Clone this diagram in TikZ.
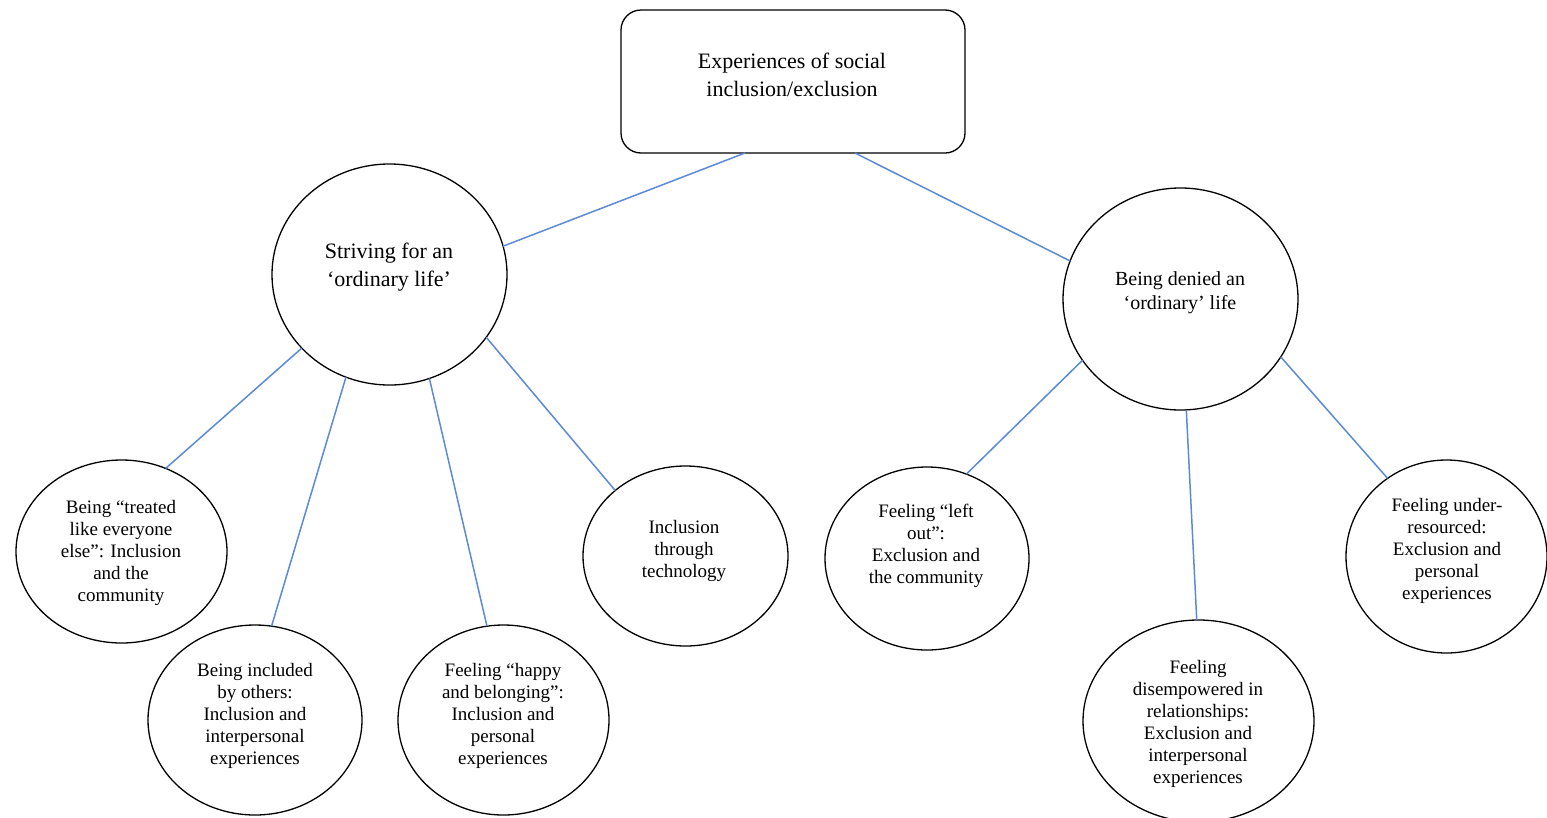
\documentclass[tikz,border=0pt]{standalone}
\usepackage{fontspec}
\setmainfont{Liberation Serif}
\usetikzlibrary{shapes.geometric}
\definecolor{linkblue}{RGB}{92,138,214}
\tikzset{
  topbox/.style={draw=black, line width=1.3pt, rounded corners=20pt, minimum width=344pt, minimum height=143pt, inner sep=0pt},
  bigtext/.style={align=center, font=\fontsize{22}{28}\selectfont, inner sep=0pt},
  smalltext/.style={align=center, font=\fontsize{19}{22}\selectfont, inner sep=0pt},
  oval/.style={draw=black, line width=1.3pt, ellipse, inner sep=0pt, outer sep=0pt},
  link/.style={draw=linkblue, line width=1.5pt}
}
\begin{document}
\begin{tikzpicture}[x=1pt,y=-1pt]
\useasboundingbox (0,0) rectangle (1547,817);

% root box
\node[topbox] (root) at (793,81.5) {};
\node[bigtext] (roottext) at (792,75) {Experiences of social\\inclusion/exclusion};
\coordinate (rootL) at (745,153);
\coordinate (rootR) at (855,153);

% second level
\node[oval, minimum width=235pt, minimum height=221pt] (strive) at (389.5,274.5) {};
\node[bigtext] (strivetext) at (389,267.5) {Striving for an\\‘ordinary life’};

\node[oval, minimum width=235pt, minimum height=222pt] (deny) at (1180.5,299) {};
\node[bigtext, font=\fontsize{20}{24}\selectfont] (denytext) at (1180,292.5) {Being denied an\\‘ordinary’ life};

% inclusion themes
\node[oval, minimum width=211pt, minimum height=183pt] (c1) at (121.5,551.5) {};
\node[smalltext] (c1text) at (121,552.5) {Being “treated\\like everyone\\else”: Inclusion\\and the\\community};

\node[oval, minimum width=214pt, minimum height=190pt] (c2) at (255,720) {};
\node[smalltext] (c2text) at (255,715.5) {Being included\\by others:\\Inclusion and\\interpersonal\\experiences};

\node[oval, minimum width=211pt, minimum height=190pt] (c3) at (503.5,720) {};
\node[smalltext] (c3text) at (503,715.5) {Feeling “happy\\and belonging”:\\Inclusion and\\personal\\experiences};

\node[oval, minimum width=205pt, minimum height=180pt] (c4) at (685.5,556) {};
\node[smalltext] (c4text) at (684,550.5) {Inclusion\\through\\technology};

% exclusion themes
\node[oval, minimum width=204pt, minimum height=183pt] (r1) at (927,558.5) {};
\node[smalltext] (r1text) at (926,546) {Feeling “left\\out”:\\Exclusion and\\the community};

\node[oval, minimum width=231pt, minimum height=202pt] (r2) at (1198.5,721) {};
\node[smalltext] (r2text) at (1198,723.5) {Feeling\\disempowered in\\relationships:\\Exclusion and\\interpersonal\\experiences};

\node[oval, minimum width=201pt, minimum height=193pt] (r3) at (1446.5,556.5) {};
\node[smalltext] (r3text) at (1447,551) {Feeling under-\\resourced:\\Exclusion and\\personal\\experiences};

% connectors
\draw[link] (rootL) -- (strive.14);
\draw[link] (rootR) -- (deny.161);

\draw[link] (strive.220) -- (c1.62);
\draw[link] (strive.247) -- (c2.80);
\draw[link] (strive.291) -- (c3.100);
\draw[link] (strive.327.5) -- (c4.137);

\draw[link] (deny.212.6) -- (r1.65);
\draw[link] (deny.273.6) -- (r2.91.4);
\draw[link] (deny.330) -- (r3.127);
\end{tikzpicture}
\end{document}
